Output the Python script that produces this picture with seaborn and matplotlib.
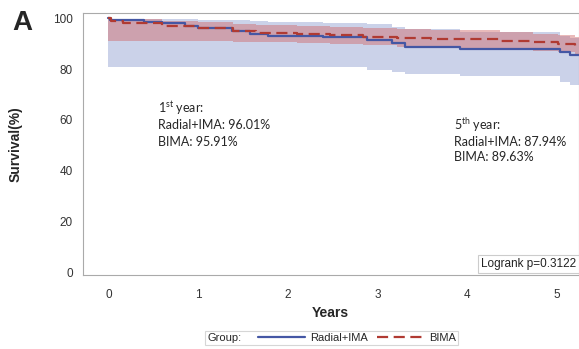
import numpy as np
import pandas as pd
import seaborn as sns
import matplotlib.pyplot as plt
from matplotlib.lines import Line2D
from matplotlib.offsetbox import HPacker

# Radial+IMA survival curve with confidence band
radial_time = [0, 0.02, 0.4, 0.6, 0.85, 1.0, 1.38, 1.58, 1.78, 2.39, 2.88, 3.16, 3.31, 3.92, 5.04, 5.15, 5.4]
radial_surv = [100, 99.2, 98.5, 97.9, 96.9, 96.0, 94.9, 93.6, 93.0, 92.4, 91.4, 90.1, 88.8, 87.9, 86.8, 85.5, 85.5]
radial_upper = [100, 99.8, 99.7, 99.6, 99.5, 99.4, 99.3, 99.0, 98.6, 98.0, 97.5, 96.5, 95.5, 94.5, 93.0, 92.2, 92.2]
radial_lower = [80.8, 80.8, 80.8, 80.8, 80.8, 80.8, 80.8, 80.8, 80.8, 80.8, 79.8, 79.0, 78.0, 77.2, 75.0, 73.8, 73.8]

# BIMA survival curve with confidence band
bima_time = [0, 0.03, 0.16, 0.6, 1.0, 1.39, 1.65, 2.1, 2.47, 2.84, 3.22, 3.6, 4.37, 4.74, 5.02, 5.2, 5.4]
bima_surv = [100, 98.8, 97.9, 97.0, 96.0, 94.9, 94.2, 93.8, 93.2, 92.7, 92.0, 91.6, 91.1, 90.5, 89.7, 88.5, 88.5]
bima_upper = [100, 99.8, 99.5, 99.0, 98.5, 97.6, 97.2, 96.9, 96.6, 96.2, 95.7, 95.3, 94.4, 93.9, 93.2, 92.6, 92.6]
bima_lower = [90.8, 90.8, 90.8, 90.8, 90.8, 90.6, 90.4, 90.1, 89.7, 89.3, 88.8, 88.3, 87.6, 87.1, 86.5, 86.0, 86.0]

groups = ["Radial+IMA", "BIMA"]
colors = {"Radial+IMA": "#4457a4", "BIMA": "#b03a32"}
band_colors = {"Radial+IMA": "#8494cc", "BIMA": "#d06666"}

x_ticks = [0, 1, 2, 3, 4, 5]
y_ticks = [0, 20, 40, 60, 80, 100]

df = pd.concat([
    pd.DataFrame({"Years": radial_time, "Survival": radial_surv, "Group": "Radial+IMA"}),
    pd.DataFrame({"Years": bima_time, "Survival": bima_surv, "Group": "BIMA"}),
])

sns.set_style("white")
plt.rcParams["font.family"] = ["Liberation Sans", "DejaVu Sans"]
plt.rcParams["mathtext.fontset"] = "custom"
plt.rcParams["mathtext.rm"] = "Lato"

fig = plt.figure(figsize=(5.79, 3.49), dpi=100)
ax = fig.add_axes([0.1425, 0.212, 0.8575, 0.751])

ax.fill_between(radial_time, radial_lower, radial_upper, step="post",
                color=band_colors["Radial+IMA"], alpha=0.42, lw=0)
ax.fill_between(bima_time, bima_lower, bima_upper, step="post",
                color=band_colors["BIMA"], alpha=0.45, lw=0)

sns.lineplot(data=df, x="Years", y="Survival", hue="Group", style="Group",
             hue_order=groups, style_order=groups, palette=colors,
             dashes={"Radial+IMA": "", "BIMA": (5, 2.5)},
             drawstyle="steps-post", estimator=None, lw=1.6, legend=False, ax=ax)

ax.set_xlim(-0.29, 5.25)
ax.set_ylim(-0.8, 102)
ax.set_xticks(x_ticks)
ax.set_yticks(y_ticks)
ax.tick_params(axis="both", direction="out", length=4, width=0.8, color="#999999",
               labelsize=8.5, labelcolor="#333333", pad=3)
ax.tick_params(axis="x", pad=6)
for side in ["left", "bottom", "top", "right"]:
    ax.spines[side].set_color("#aaaaaa")
    ax.spines[side].set_linewidth(0.8)

ax.set_xlabel("Years", fontsize=10, fontweight="bold", labelpad=4)
ax.set_ylabel("Survival(%)", fontsize=10, fontweight="bold", labelpad=22)

note_font = ["Lato", "DejaVu Sans"]
ax.text(0.55, 64.7, r"1$^{\rm st}$ year:", fontsize=9, family=note_font, va="center")
ax.text(0.55, 58.0, "Radial+IMA: 96.01%", fontsize=9, family=note_font, va="center")
ax.text(0.55, 51.5, "BIMA: 95.91%", fontsize=9, family=note_font, va="center")
ax.text(3.86, 58.0, r"5$^{\rm th}$ year:", fontsize=9, family=note_font, va="center")
ax.text(3.86, 51.5, "Radial+IMA: 87.94%", fontsize=9, family=note_font, va="center")
ax.text(3.86, 45.3, "BIMA: 89.63%", fontsize=9, family=note_font, va="center")

ax.text(0.995, 0.042, "Logrank p=0.3122", transform=ax.transAxes, ha="right", va="center",
        fontsize=8.5, color="#222222",
        bbox=dict(boxstyle="square,pad=0.25", fc="white", ec="#cccccc", lw=0.8))

fig.text(0.038, 0.935, "A", fontsize=20, fontweight="bold", ha="center", va="center")

handles = [Line2D([], [], color=colors["Radial+IMA"], lw=1.6),
           Line2D([], [], color=colors["BIMA"], lw=1.6, dashes=(5, 2.5))]
leg = fig.legend(handles, groups, title="Group:", loc="center", ncol=2,
                 bbox_to_anchor=(0.573, 0.0315), fontsize=8, title_fontsize=8,
                 frameon=True, fancybox=False, edgecolor="#cccccc", handlelength=4.2,
                 handletextpad=0.5, columnspacing=0.8, borderpad=0.2)
leg.get_frame().set_linewidth(0.8)
# place the "Group:" title to the left of the entries
row = HPacker(pad=leg.borderpad * 8, sep=12, align="center",
              children=[leg._legend_title_box, leg._legend_handle_box])
row.set_figure(fig)
leg._legend_box = row
leg._set_loc(leg._loc)

fig.savefig("out.png", dpi=100)
